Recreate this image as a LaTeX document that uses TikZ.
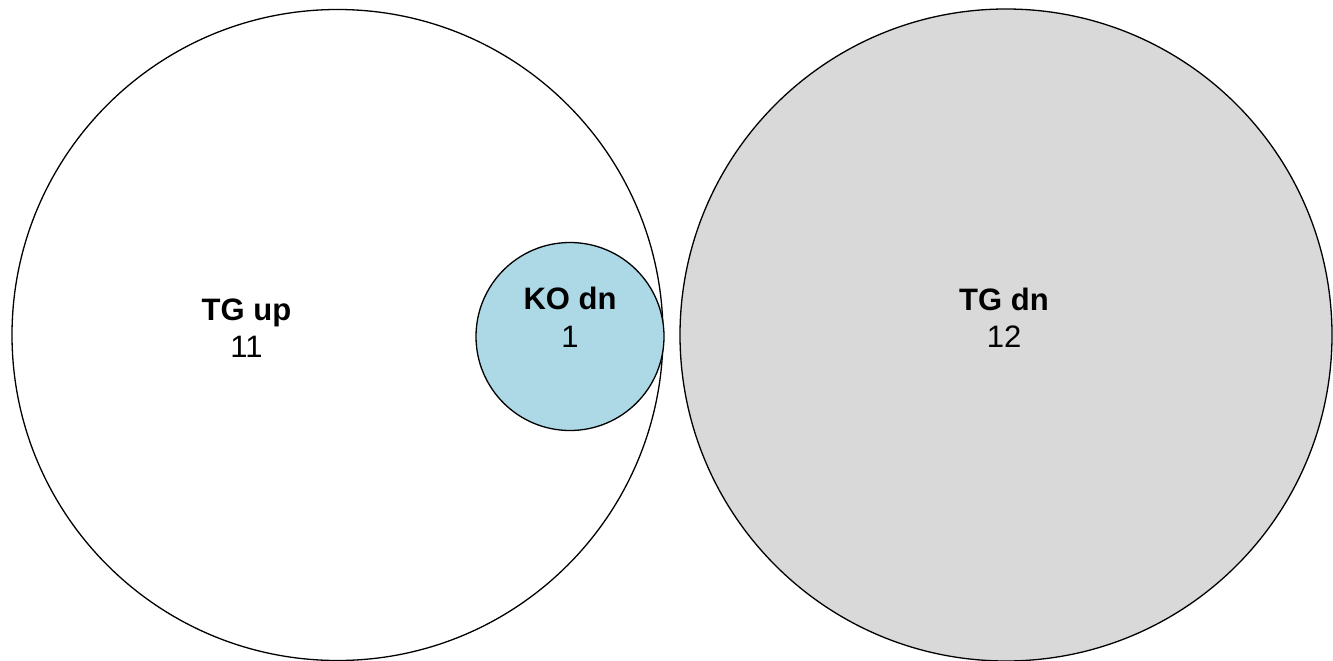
\documentclass[tikz,border=0pt]{standalone}
\usepackage{fontspec}
\setmainfont{Liberation Sans}
\begin{document}
\begin{tikzpicture}[x=1pt,y=-1pt,
  setcirc/.style={draw=black,line width=1.3pt,circle,inner sep=0pt},
  lbl/.style={font=\fontsize{31}{36}\selectfont\bfseries,anchor=base},
  num/.style={font=\fontsize{31}{36}\selectfont,anchor=base}]
\useasboundingbox (0,0) rectangle (1333,661);
\node[setcirc,fill=white,minimum size=651pt] (up) at (337.5,335) {};
\node[setcirc,fill=black!15,minimum size=652pt] (dn) at (1006,335) {};
\node[setcirc,fill={rgb,255:red,173;green,216;blue,230},minimum size=188pt] (ko) at (570,336.5) {};
\node[lbl] (uplbl) at (246.5,320.5) {TG up};
\node[num] (upnum) at (246.5,357) {11};
\node[lbl] (kolbl) at (570,309) {KO dn};
\node[num] (konum) at (570,347.5) {1};
\node[lbl] (dnlbl) at (1004,310) {TG dn};
\node[num] (dnnum) at (1004,347) {12};
\end{tikzpicture}
\end{document}
